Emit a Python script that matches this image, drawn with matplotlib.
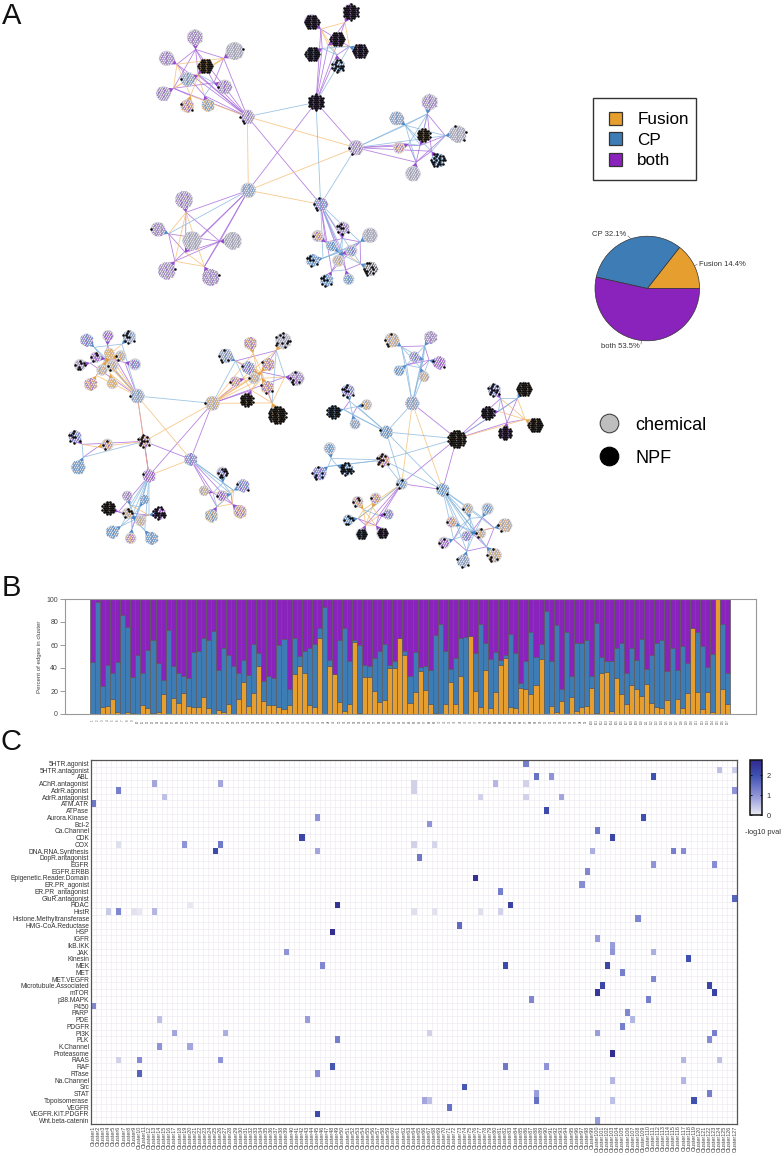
import numpy as np
import matplotlib
matplotlib.use('Agg')
import matplotlib.pyplot as plt
from matplotlib.collections import LineCollection, PolyCollection
from matplotlib.colors import LinearSegmentedColormap
from matplotlib.lines import Line2D
from matplotlib.patches import Patch, Rectangle

plt.rcParams['font.family'] = ['Liberation Sans', 'DejaVu Sans']

W, H = 784, 1156
ORANGE, BLUE, PURPLE = '#E69F2E', '#3E7CB5', '#8A22BC'
EDGE = {'p': '#A564DA', 'o': '#F5BC70', 'b': '#86B6DE'}
INK = {'p': '#8A3CC8', 'o': '#E29A35', 'b': '#3F7FC4', 'g': '#9090AC', 'k': '#222222'}

# panel A: nodes are (x, y, radius, ink, black dots), read at 3x crop scale
net1_hubs = [(558, 307, 23, 'p', 99), (352, 350, 20, 'gp', 3), (678, 443, 22, 'gp', 2),
             (355, 571, 22, 'gb', 0), (572, 613, 20, 'pb', 4)]
net1_links = ['01b', '12o', '13o', '14p', '03p', '02p', '04b', '23o', '24b', '34o']
net1_groups = [
    (0, [(662, 35, 23, 'p', 99), (545, 65, 22, 'p', 99), (622, 117, 20, 'p', 99),
         (547, 163, 21, 'pb', 40), (690, 153, 21, 'p', 99), (625, 197, 19, 'b', 18)],
     'ppppbp', '01o 04o 12o 13p 14p 25b 24o 35b 15o 02p 34b 45p'),
    (1, [(195, 112, 23, 'gp', 0), (314, 153, 26, 'g', 1), (110, 175, 22, 'gp', 0),
         (226, 197, 20, 'o', 99), (173, 237, 20, 'gb', 1), (284, 261, 21, 'gp', 1),
         (100, 281, 21, 'gp', 0), (172, 318, 19, 'po', 2), (234, 316, 18, 'bo', 0)],
     'pppppppop', '01p 02p 05p 12o 13o 15p 16o 14o 26o 27o 34o 35b 36o 47o 48o 56p 58b 67p 04p 28p 06p'),
    (2, [(899, 306, 23, 'gp', 0), (800, 355, 20, 'gb', 0), (983, 402, 24, 'g', 3),
         (881, 405, 19, 'o', 99), (807, 443, 17, 'po', 0), (924, 481, 20, 'b', 22),
         (849, 521, 22, 'g', 0)],
     'bbbpppp', '01b 02p 03b 04b 05p 06p 12b 13b 15b 16b 23p 25b 26p 34b 46p 56p'),
    (3, [(162, 599, 25, 'gp', 0), (84, 688, 21, 'gp', 1), (186, 722, 27, 'g', 0),
         (308, 722, 25, 'g', 0), (110, 812, 24, 'gp', 1), (242, 832, 24, 'gp', 1)],
     'pbpppp', '01o 02p 03p 04o 05o 12p 14p 13p 23p 25o 45o 35p 34p'),
    (4, [(639, 684, 18, 'gp', 8), (563, 708, 17, 'po', 1), (720, 706, 22, 'g', 0),
         (604, 738, 15, 'b', 0), (664, 752, 17, 'pb', 0), (625, 782, 17, 'go', 0),
         (548, 781, 18, 'b', 7), (722, 806, 20, 'gk', 10), (656, 838, 16, 'b', 0),
         (590, 841, 18, 'b', 8)],
     'ppbbpbbbpp', '02p 03b 04b 13b 15b 23b 24p 26b 27p 29p 34b 35b 36b 45o 47b 56b 57o 58p 59p 78p 89b 01p'),
]

net2_hubs = [(262, 228, 21, 'gb', 1), (487, 250, 21, 'go', 1), (283, 364, 18, 'po', 12),
             (422, 418, 18, 'pb', 0), (297, 467, 18, 'p', 1)]
net2_links = ['01b', '04p', '04o', '03o', '12o', '13p', '14p', '23p', '24p', '34o']
net2_groups = [
    (0, [(110, 60, 18, 'bp', 0), (174, 47, 16, 'p', 0), (238, 50, 18, 'gb', 9),
         (137, 112, 16, 'p', 4), (90, 135, 17, 'gp', 8), (178, 100, 15, 'o', 0),
         (212, 108, 16, 'go', 2), (255, 133, 17, 'pb', 0), (187, 137, 17, 'go', 2),
         (156, 150, 16, 'go', 0), (122, 193, 18, 'po', 0), (187, 190, 16, 'o', 0)],
     'bpbppoopoooo', '02b 08b 18p 28o 38p 48b 58o 68o 78p 89o a8o b8o 59p 69o 39p 05b 16o a9p'),
    (1, [(527, 107, 20, 'gb', 5), (601, 70, 18, 'po', 0), (700, 62, 23, 'g', 11),
         (595, 143, 18, 'pb', 1), (655, 133, 18, 'po', 1), (555, 185, 15, 'po', 1),
         (612, 175, 16, 'go', 1), (740, 175, 22, 'gp', 6), (652, 202, 18, 'po', 3),
         (590, 240, 19, 'ko', 99), (682, 285, 26, 'ko', 99)],
     'boooopopopo', '02p 03p 04o 05b 16o 26p 27b 2ab 36o 46o 56o 67p 68p 69o 6ao 78o 7ao 89o 8ap 9ao 59o 13o'),
    (2, [(75, 350, 18, 'pb', 9), (172, 374, 17, 'po', 3), (85, 442, 20, 'b', 0)],
     'pob', '01o 02b 12p'),
    (3, [(517, 458, 17, 'pb', 10), (579, 497, 18, 'pb', 2), (462, 512, 14, 'go', 0),
         (515, 527, 15, 'p', 1), (484, 587, 18, 'bo', 0), (570, 575, 19, 'po', 0)],
     'bbpbpp', '02b 03b 13o 12o 14o 25p 35p 34b 24b 45o 15o 01b'),
    (4, [(232, 528, 15, 'gp', 0), (284, 538, 13, 'b', 0), (175, 564, 19, 'ko', 99),
         (328, 580, 18, 'p', 22), (233, 580, 16, 'go', 6), (272, 602, 16, 'go', 0),
         (187, 636, 18, 'b', 0), (242, 655, 16, 'po', 0), (305, 655, 18, 'b', 0)],
     'bbpbbbbbb', '01b 03o 14b 15b 24p 23p 34o 45o 46b 47p 48b 56b 57p 58b 04b 05b 35p'),
]

net3_hubs = [(307, 250, 20, 'gb', 0), (440, 356, 24, 'ko', 99), (229, 336, 18, 'b', 1),
             (219, 420, 19, 'po', 11), (275, 491, 17, 'b', 3), (398, 509, 18, 'b', 2)]
net3_links = ['01p', '02b', '04o', '05o', '12b', '13b', '14p', '15p', '24b', '25b', '34b', '35b', '45p']
net3_groups = [
    (0, [(246, 60, 21, 'go', 4), (362, 52, 18, 'gp', 0), (313, 110, 15, 'pb', 0),
         (388, 128, 18, 'p', 2), (267, 152, 15, 'b', 0), (342, 170, 15, 'go', 0)],
     'bbbbbb', '01p 13p 12b 14b 04b 05b 02b 24p 15b 35p 34p 25b 45b'),
    (1, [(553, 210, 18, 'pb', 13), (642, 207, 21, 'ko', 99), (533, 278, 19, 'pk', 99),
         (676, 316, 22, 'ko', 99), (585, 340, 19, 'p', 40)],
     'pbpop', '01b 02b 04p 13o 12p 14p 23o 03o 34p'),
    (2, [(114, 212, 18, 'pb', 9), (170, 254, 15, 'go', 1), (70, 275, 18, 'b', 40),
         (135, 312, 15, 'gb', 0)],
     'bbbb', '02p 03b 12b 13p 23b'),
    (3, [(59, 385, 17, 'b', 0), (110, 447, 18, 'b', 22), (28, 460, 20, 'bp', 7)],
     'bbb', '01b 02b 12b'),
    (4, [(197, 535, 16, 'po', 1), (143, 545, 16, 'po', 4), (235, 583, 15, 'pb', 1),
         (115, 600, 16, 'b', 7), (155, 643, 17, 'b', 40), (217, 640, 17, 'p', 35)],
     'oopbpp', '02o 13o 12b 15o 34p 35p 24o 25p 03o 14o 45o 04o'),
    (5, [(473, 566, 16, 'bo', 1), (533, 566, 17, 'b', 0), (425, 606, 16, 'po', 1),
         (585, 616, 20, 'go', 2), (470, 648, 15, 'pb', 0), (512, 640, 15, 'go', 3),
         (402, 668, 17, 'p', 3), (553, 706, 21, 'go', 6), (460, 723, 18, 'gb', 3)],
     'bbbbbbbbb', '01b 13p 37p 78p 68p 26p 04b 05b 06b 14b 15p 24b 25b 34p 35o 46b 47b 57p 58b 48b 02b'),
]

networks = [(130, 0, net1_hubs, net1_links, net1_groups),
            (50, 320, net2_hubs, net2_links, net2_groups),
            (310, 320, net3_hubs, net3_links, net3_groups)]

pie_labels = ['Fusion', 'CP', 'both']
pie_shares = [14.4, 32.1, 53.5]

# panel B: percent of edges per cluster
fusion_pct = [0, 0, 6, 7, 13, 2, 0, 2, 1, 0, 8, 5, 1, 1.5, 17.5, 0, 14, 9.5, 18, 7,
              6, 6, 14.5, 5, 0, 3.5, 2, 8.5, 0, 13, 28, 7, 18, 42, 11.5, 7.5, 8, 6, 4, 7.5,
              35, 42, 36, 8, 6, 66.5, 0, 42, 35, 10.5, 3, 8.5, 62.5, 1, 32, 32.5, 20, 10.5, 12, 40,
              40, 66, 51.6, 9.6, 19, 37, 21, 8.4, 0.5, 0, 9, 28, 9, 33, 0, 68, 20, 6, 38, 5.5,
              19.5, 43, 49, 6.5, 5.5, 23, 22, 17, 25, 48, 0, 7, 2, 11, 0, 15, 2.6, 6.4, 6.7, 23,
              1, 36, 36.5, 3, 31, 17, 8.4, 25, 22, 16, 26, 10, 6.4, 5.5, 12, 0, 13, 5, 18, 75,
              19, 4.6, 19.4, 1.4, 100, 22, 9]
fusion_cp_pct = [45, 97, 24, 43, 36, 45, 86, 76, 32, 51, 36, 56, 64, 44, 30, 73, 42, 36, 33, 31.5,
                 54, 55, 66, 64, 72, 38, 57, 51, 42, 36, 47, 34, 61, 53, 29, 33, 31, 60, 65.5, 22,
                 66.5, 50.5, 55, 57, 60.5, 74.5, 93, 47, 35, 64, 74.5, 46.5, 64, 60, 43, 41.5, 49, 55, 60.5, 43,
                 46.5, 66, 55, 33, 54, 41, 42, 38, 69, 78, 55, 39, 49, 66, 67, 68, 53, 78.5, 62, 48,
                 54, 47, 51, 69.5, 53, 27, 46, 71, 50, 60.5, 90, 46.5, 77, 22, 71, 33, 62, 62, 64, 33,
                 79, 50, 46.4, 46.4, 57.7, 62, 36, 57, 47, 65.5, 39, 51, 62, 64, 37, 57, 38, 59, 44, 75,
                 71.6, 59, 41, 52.5, 100, 78, 36]

# panel C: enriched cells as (target, cluster, -log10 p)
targets = ['5HTR.agonist', '5HTR.antagonist', 'ABL', 'AChR.antagonist', 'AdrR.agonist', 'AdrR.antagonist',
           'ATM.ATR', 'ATPase', 'Aurora.Kinase', 'Bcl-2', 'Ca.Channel', 'CDK', 'COX', 'DNA.RNA.Synthesis',
           'DopR.antagonist', 'EGFR', 'EGFR.ERBB', 'Epigenetic.Reader.Domain', 'ER.PR_agonist',
           'ER.PR_antagonist', 'GluR.antagonist', 'HDAC', 'HistR', 'Histone.Methyltransferase',
           'HMG-CoA.Reductase', 'HSP', 'IGFR', 'IkB.IKK', 'JAK', 'Kinesin', 'MEK', 'MET', 'MET.VEGFR',
           'Microtubule.Associated', 'mTOR', 'p38.MAPK', 'P450', 'PARP', 'PDE', 'PDGFR', 'PI3K', 'PLK',
           'K.Channel', 'Proteasome', 'RAAS', 'RAF', 'RTase', 'Na.Channel', 'Src', 'STAT', 'Topoisomerase',
           'VEGFR', 'VEGFR.KIT.PDGFR', 'Wnt.beta-catenin']
heat_cells = [
    ('5HTR.agonist', 86, 1.3), ('5HTR.antagonist', 124, 0.5), ('5HTR.antagonist', 127, 0.35),
    ('ABL', 88, 1.5), ('ABL', 91, 1.0), ('ABL', 111, 2.0),
    ('AChR.antagonist', 13, 0.8), ('AChR.antagonist', 26, 0.8), ('AChR.antagonist', 64, 0.3),
    ('AChR.antagonist', 80, 0.6), ('AChR.antagonist', 86, 0.3),
    ('AdrR.agonist', 6, 1.3), ('AdrR.agonist', 64, 0.3), ('AdrR.agonist', 127, 1.0),
    ('AdrR.antagonist', 15, 0.5), ('AdrR.antagonist', 77, 0.3), ('AdrR.antagonist', 86, 0.3),
    ('AdrR.antagonist', 93, 0.8), ('ATM.ATR', 1, 1.4), ('ATPase', 90, 2.1),
    ('Aurora.Kinase', 45, 1.0), ('Aurora.Kinase', 109, 2.0), ('Bcl-2', 67, 1.0), ('Ca.Channel', 100, 1.4),
    ('CDK', 42, 2.2), ('CDK', 103, 2.2),
    ('COX', 6, 0.15), ('COX', 19, 1.0), ('COX', 26, 1.4), ('COX', 64, 0.3), ('COX', 68, 0.25),
    ('DNA.RNA.Synthesis', 25, 2.1), ('DNA.RNA.Synthesis', 45, 0.8), ('DNA.RNA.Synthesis', 99, 0.7),
    ('DNA.RNA.Synthesis', 115, 1.3), ('DNA.RNA.Synthesis', 117, 1.1),
    ('DopR.antagonist', 65, 1.4), ('EGFR', 111, 1.0), ('EGFR', 123, 1.1), ('EGFR.ERBB', 98, 1.2),
    ('Epigenetic.Reader.Domain', 76, 2.6), ('ER.PR_agonist', 97, 1.1), ('ER.PR_antagonist', 81, 1.3),
    ('GluR.antagonist', 127, 1.7), ('HDAC', 20, 0.05), ('HDAC', 49, 2.6), ('HDAC', 83, 2.3),
    ('HistR', 4, 0.4), ('HistR', 6, 1.2), ('HistR', 9, 0.12), ('HistR', 10, 0.05), ('HistR', 13, 0.6),
    ('HistR', 64, 0.15), ('HistR', 68, 0.12), ('HistR', 77, 0.15), ('HistR', 81, 0.3),
    ('Histone.Methyltransferase', 108, 1.2), ('HMG-CoA.Reductase', 73, 1.6), ('HSP', 48, 2.7),
    ('IGFR', 100, 0.9), ('IkB.IKK', 103, 0.9), ('JAK', 39, 1.0), ('JAK', 103, 1.0), ('JAK', 111, 0.7),
    ('Kinesin', 118, 2.0), ('MEK', 46, 1.2), ('MEK', 82, 2.1), ('MEK', 102, 2.2), ('MET', 105, 1.3),
    ('MET.VEGFR', 111, 1.2), ('Microtubule.Associated', 101, 2.2), ('Microtubule.Associated', 122, 2.2),
    ('mTOR', 100, 2.5), ('mTOR', 123, 2.3), ('p38.MAPK', 87, 1.2), ('p38.MAPK', 110, 1.3),
    ('P450', 1, 1.2), ('PARP', 106, 1.2), ('PDE', 14, 0.5), ('PDE', 43, 0.9), ('PDE', 107, 0.6),
    ('PDGFR', 105, 1.3), ('PI3K', 17, 0.8), ('PI3K', 27, 0.7), ('PI3K', 67, 0.3), ('PI3K', 100, 0.9),
    ('PI3K', 123, 1.3), ('PLK', 49, 1.3), ('PLK', 122, 1.1), ('K.Channel', 14, 1.0), ('K.Channel', 20, 0.8),
    ('Proteasome', 103, 2.7), ('RAAS', 6, 0.3), ('RAAS', 10, 1.1), ('RAAS', 26, 1.0), ('RAAS', 117, 0.6),
    ('RAAS', 124, 0.5), ('RAF', 48, 1.9), ('RAF', 82, 1.4), ('RAF', 90, 1.0), ('RTase', 10, 1.7),
    ('RTase', 45, 1.1), ('Na.Channel', 103, 0.6), ('Na.Channel', 117, 0.6), ('Src', 74, 1.9),
    ('STAT', 88, 0.9), ('STAT', 122, 1.3), ('Topoisomerase', 66, 0.8), ('Topoisomerase', 67, 0.5),
    ('Topoisomerase', 88, 1.5), ('Topoisomerase', 103, 0.5), ('Topoisomerase', 119, 2.0), ('VEGFR', 71, 1.5),
    ('VEGFR.KIT.PDGFR', 45, 2.1), ('Wnt.beta-catenin', 100, 0.9),
]
n_clusters = 127


def px_axes(fig, left, top, right, bottom, **kw):
    return fig.add_axes([left / W, 1 - bottom / H, (right - left) / W, (bottom - top) / H], **kw)


fig = plt.figure(figsize=(W / 100, H / 100), dpi=100)
canvas = px_axes(fig, 0, 0, W, H)
canvas.set_xlim(0, W)
canvas.set_ylim(H, 0)
canvas.axis('off')

# collected network marks, all in pixels
edge_segs = {'p': [], 'o': [], 'b': []}
ink_segs = {k: [] for k in INK}
wedge_polys, wedge_cols = [], []
dot_xy, black_xy = [], []
disc_xy, disc_size = [], []


def add_blob(cx, cy, r, ink, nblack):
    sp = 2.35
    disc_xy.append((cx, cy))
    disc_size.append((2 * (r + 0.4) * 0.72) ** 2)
    reach = r + 0.5
    pts = []
    for j in range(-9, 10):
        for i in range(-9, 10):
            x = sp * (i + 0.5 * (j % 2))
            y = sp * j * 0.866
            if x * x + y * y <= reach * reach:
                pts.append((x, y))
    pts = np.array(pts)
    n = len(pts)
    k = 0
    for a in range(n):
        for b in range(a + 1, n):
            if np.hypot(*(pts[a] - pts[b])) < sp * 1.15:
                ink_segs[ink[k % len(ink)]].append([pts[a] + (cx, cy), pts[b] + (cx, cy)])
                k += 1
    order = np.argsort(-np.hypot(pts[:, 0], pts[:, 1]))
    if nblack >= n:
        chosen = set(range(n))
    else:
        chosen = {order[(m * 5) % n] for m in range(nblack)}
    for m in range(n):
        p = pts[m] + (cx, cy)
        (black_xy if m in chosen else dot_xy).append(p)


for ox, oy, hubs, links, groups in networks:
    hub_xy = np.array([(ox + h[0] / 3, oy + h[1] / 3) for h in hubs])
    for h, (hx, hy) in zip(hubs, hub_xy):
        add_blob(hx, hy, h[2] / 3, h[3], h[4])
    for link in links:
        edge_segs[link[2]].append([hub_xy[int(link[0])], hub_xy[int(link[1])]])
    for hub, leaves, fan, mesh in groups:
        xy = np.array([(ox + n[0] / 3, oy + n[1] / 3) for n in leaves])
        mid = xy.mean(axis=0)
        anchors = []
        for n, p, col in zip(leaves, xy, fan):
            r = n[2] / 3
            d = mid - p
            d = d / max(np.hypot(*d), 0.1)
            side = np.array([-d[1], d[0]]) * r * 0.7
            tip = p + d * (r + 4.5)
            anchors.append(tip)
            wedge_polys.append([tip, p + d * r * 0.5 + side, p + d * r * 0.5 - side])
            wedge_cols.append(INK[col])
            add_blob(p[0], p[1], r, n[3], n[4])
            edge_segs[col].append([hub_xy[hub], tip])
        for e in mesh.split():
            edge_segs[e[2]].append([anchors[int(e[0], 16)], anchors[int(e[1], 16)]])

for col, segs in edge_segs.items():
    canvas.add_collection(LineCollection(segs, colors=EDGE[col], linewidths=0.6, alpha=0.8, zorder=1))
canvas.add_collection(PolyCollection(wedge_polys, facecolors=wedge_cols, edgecolors='none', alpha=0.9, zorder=2))
discs = np.array(disc_xy)
canvas.scatter(discs[:, 0], discs[:, 1], s=disc_size, c='#D2D2D6', linewidths=0, zorder=3)
for col, segs in ink_segs.items():
    if segs:
        canvas.add_collection(LineCollection(segs, colors=INK[col], linewidths=0.5, alpha=0.8, zorder=4))
dots = np.array(dot_xy)
canvas.scatter(dots[:, 0], dots[:, 1], s=1.0, c='#E2E2E6', linewidths=0, zorder=5)
blacks = np.array(black_xy)
canvas.scatter(blacks[:, 0], blacks[:, 1], s=3.2, c='#0A0A0A', linewidths=0, zorder=6)

# panel letters
for letter, x, y in [('A', 2, 16), ('B', 2, 588), ('C', 1, 742)]:
    canvas.text(x, y, letter, fontsize=21, va='center', ha='left', color='#111111')

# legends
edge_handles = [Patch(facecolor=c, edgecolor='#333333', linewidth=0.9) for c in (ORANGE, BLUE, PURPLE)]
leg = canvas.legend(edge_handles, pie_labels, loc='upper left', bbox_to_anchor=(608.7, 112),
                    bbox_transform=canvas.transData, borderaxespad=0, borderpad=0, frameon=False, fontsize=12.3,
                    handlelength=0.78, handleheight=0.78, handletextpad=0.9, labelspacing=0.3)
canvas.add_artist(leg)
canvas.add_patch(Rectangle((593.5, 98), 102.5, 82.3, fill=False, edgecolor='#333333', linewidth=1.0))
node_handles = [Line2D([], [], marker='o', ls='', ms=13.4, mfc='#BEBEBE', mec='#444444', mew=0.8),
                Line2D([], [], marker='o', ls='', ms=13.4, mfc='#000000', mec='#000000', mew=0.8)]
canvas.legend(node_handles, ['chemical', 'NPF'], loc='upper left', bbox_to_anchor=(600, 416.7),
              bbox_transform=canvas.transData, borderaxespad=0, borderpad=0, frameon=False, fontsize=13,
              handlelength=1.0, handletextpad=0.95, labelspacing=0.88)

# pie
pie_ax = px_axes(fig, 595, 236.2, 699.6, 340.8)
pie_ax.pie(pie_shares, colors=[ORANGE, BLUE, PURPLE], startangle=0, radius=1,
           wedgeprops={'edgecolor': '#333333', 'linewidth': 0.5})
pie_ax.set_xlim(-1, 1)
pie_ax.set_ylim(-1, 1)
for patch in pie_ax.patches:
    patch.set_clip_on(False)
for label, share, x, y, ha in [('Fusion', pie_shares[0], 699, 264, 'left'),
                               ('CP', pie_shares[1], 592.5, 235, 'left'),
                               ('both', pie_shares[2], 601, 346, 'left')]:
    canvas.text(x, y, f'{label} {share}%', fontsize=5.5, color='#333333', ha=ha, va='center')
for x0, y0, x1, y1 in [(697, 264.5, 695, 265.5), (628, 236, 630.5, 238.5), (641, 344, 641.5, 340.5)]:
    canvas.plot([x0, x1], [y0, y1], color='#555555', lw=0.4)

# stacked bars
bar_ax = px_axes(fig, 65, 599, 756, 714)
xs = np.arange(1, n_clusters + 1)
fusion = np.array(fusion_pct)
cp = np.array(fusion_cp_pct) - fusion
both = 100 - fusion - cp
bar_kw = dict(width=1.0, edgecolor='#5A5A5A', linewidth=0.5)
bar_ax.bar(xs, fusion, color=ORANGE, **bar_kw)
bar_ax.bar(xs, cp, bottom=fusion, color=BLUE, **bar_kw)
bar_ax.bar(xs, both, bottom=fusion + cp, color=PURPLE, **bar_kw)
bar_ax.set_xlim(-4.46, 132.66)
bar_ax.set_ylim(0, 100)
bar_ax.set_xticks(xs)
bar_ax.set_xticklabels(xs, rotation=90, fontsize=2.1, color='#555555')
bar_ax.tick_params(axis='x', length=0, pad=4)
bar_ax.set_yticks(range(0, 101, 20))
bar_ax.tick_params(axis='y', labelsize=5, labelcolor='#444444', color='#999999', length=3.5, width=0.7, pad=1.5)
bar_ax.set_ylabel('Percent of edges in cluster', fontsize=4.4, color='#444444', labelpad=3.2)
for spine in bar_ax.spines.values():
    spine.set_color('#999999')
    spine.set_linewidth(0.8)

# heatmap
heat_ax = px_axes(fig, 90.7, 760, 737.3, 1124)
grid = np.full((len(targets), n_clusters), np.nan)
for name, cluster, val in heat_cells:
    grid[targets.index(name), cluster - 1] = val
vmax = 2.77
cmap = LinearSegmentedColormap.from_list('pval', [(0, '#ECECF2'), (1 / vmax, '#8F94D8'),
                                                  (2 / vmax, '#3E50B0'), (1, '#322A8E')])
mesh_art = heat_ax.pcolormesh(np.arange(n_clusters + 1), np.arange(len(targets) + 1),
                              np.ma.masked_invalid(grid), cmap=cmap, vmin=0, vmax=vmax, zorder=3)
heat_ax.set_xlim(0, n_clusters)
heat_ax.set_ylim(len(targets), 0)
heat_ax.set_xticks(np.arange(n_clusters + 1), minor=True)
heat_ax.set_yticks(np.arange(len(targets) + 1), minor=True)
heat_ax.grid(which='minor', color='#EFECF1', linewidth=0.5, zorder=1)
heat_ax.set_axisbelow(True)
heat_ax.tick_params(which='minor', length=0)
heat_ax.set_xticks(xs - 0.5)
heat_ax.set_xticklabels([f'Cluster{i}' for i in xs], rotation=90, fontsize=3.9, color='#444444')
heat_ax.set_yticks(np.arange(len(targets)) + 0.5)
heat_ax.set_yticklabels(targets, fontsize=4.8, color='#333333')
heat_ax.tick_params(which='major', length=0, pad=1)
for spine in heat_ax.spines.values():
    spine.set_color('#555555')
    spine.set_linewidth(0.9)
    spine.set_zorder(5)

# colour bar
cax = px_axes(fig, 750.3, 760, 762.3, 815.3)
cb = fig.colorbar(mesh_art, cax=cax, ticks=[0, 1, 2])
cb.outline.set_linewidth(1.1)
cb.outline.set_edgecolor('#111111')
cax.tick_params(direction='in', length=1.6, width=0.6, left=True, right=True, labelsize=5.3,
                labelcolor='#333333', pad=3)
canvas.text(745, 833, '-log10 pval', fontsize=5.3, color='#333333', va='center', ha='left')

fig.savefig('out.png', dpi=100)
